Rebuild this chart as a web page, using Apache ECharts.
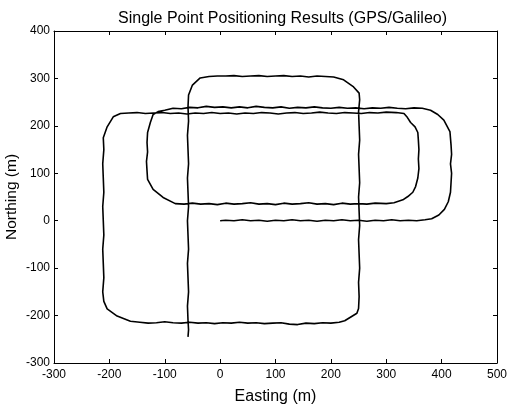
<!DOCTYPE html>
<html>
<head>
<meta charset="utf-8">
<script src="https://cdn.jsdelivr.net/npm/echarts@6/dist/echarts.min.js"></script>
<style>
  html, body { margin: 0; padding: 0; background: #fff; }
  #chart { width: 511px; height: 407px; }
</style>
</head>
<body>
<div id="chart"></div>
<script>
// axis ranges / ticks
const xTicks = [-300, -200, -100, 0, 100, 200, 300, 400, 500]
const yTicks = [-300, -200, -100, 0, 100, 200, 300, 400]

// track, [easting, northing] in metres
const legEast0 = [[0,0],[10,1],[25,0],[40,2],[55,0],[70,1],[85,-1],[100,1],[115,0],[130,2],[145,0],[160,1],[175,-1],[190,1],[205,0],[220,2],[235,0],[250,1],[265,-1],[280,1],[295,0],[310,2],[325,0],[340,1],[355,0],[370,2],[382,4]]
const turnOuterRight = [[395,12],[405,24],[412,40],[416,60],[417,80],[418,100],[416,120],[418,140],[417,160],[415,188],[404,212],[393,224],[380,233]]
const legWest238 = [[365,237],[350,238],[335,236],[320,237],[305,239],[290,237],[275,238],[260,236],[245,238],[230,237],[215,239],[200,237],[185,238],[170,240],[155,238],[140,239],[125,237],[110,240],[95,238],[80,239],[65,241],[50,238],[35,240],[20,238],[5,240],[-10,239],[-25,241],[-40,238],[-55,239],[-70,236],[-85,237],[-100,233],[-112,230]]
const turnInnerLeft = [[-121,224],[-126,207],[-131,186],[-132,165],[-131,145],[-133,125],[-132,105],[-131,87],[-121,66],[-103,49],[-81,36]]
const legEast36 = [[-65,35],[-50,37],[-35,35],[-20,36],[-5,34],[10,37],[25,35],[40,36],[55,38],[70,35],[85,36],[100,34],[115,37],[130,35],[145,36],[160,38],[175,35],[190,36],[205,34],[220,37],[235,35],[250,36],[265,35],[280,37],[300,36]]
const turnInnerRight = [[314,38],[330,44],[339,51],[348,60],[353,72],[357,90],[359,110],[358,130],[359,150],[358,170],[357,186],[352,198],[344,207],[338,218],[332,226]]
const legWest226 = [[318,228],[300,229],[285,227],[270,228],[255,226],[240,227],[225,228],[210,226],[195,227],[180,229],[165,227],[150,226],[135,228],[120,227],[105,225],[90,227],[75,228],[60,226],[45,227],[30,225],[15,227],[0,226],[-15,228],[-30,226],[-45,227],[-60,225],[-75,227],[-90,226],[-105,228],[-120,227],[-135,226],[-150,228],[-165,227],[-180,226],[-193,219]]
const turnOuterLeft = [[-204,198],[-211,175],[-210,150],[-212,120],[-211,90],[-210,60],[-212,30],[-211,0],[-210,-30],[-212,-60],[-211,-90],[-210,-120],[-212,-150],[-210,-170],[-204,-186],[-186,-201],[-162,-212]]
const legEastSouth = [[-145,-214],[-130,-216],[-115,-215],[-100,-213],[-85,-215],[-70,-216],[-55,-214],[-40,-216],[-25,-215],[-10,-217],[5,-215],[20,-216],[35,-214],[50,-216],[65,-215],[80,-217],[95,-216],[110,-215],[125,-218],[140,-219],[155,-216],[170,-217],[185,-215],[200,-216],[215,-214],[225,-211]]
const legNorth250 = [[236,-203],[247,-195],[250,-185],[251,-160],[250,-130],[252,-100],[251,-70],[250,-40],[252,-10],[251,20],[250,50],[252,80],[251,110],[250,140],[252,170],[251,200],[250,230],[252,255],[251,269],[241,282],[223,297],[205,303]]
const legWest305 = [[190,304],[175,305],[160,303],[145,305],[130,304],[115,306],[100,305],[85,304],[70,306],[55,305],[40,304],[25,306],[10,305],[-5,305],[-20,304],[-36,301],[-50,286],[-57,265]]
const legSouth57 = [[-58,240],[-57,210],[-59,180],[-58,150],[-57,120],[-59,90],[-58,60],[-57,30],[-59,0],[-58,-30],[-57,-60],[-59,-90],[-58,-120],[-57,-150],[-59,-180],[-58,-210],[-57,-230],[-58,-245]]

const track = [].concat(legEast0, turnOuterRight, legWest238, turnInnerLeft, legEast36,
  turnInnerRight, legWest226, turnOuterLeft, legEastSouth, legNorth250, legWest305, legSouth57)

const font = 'Liberation Sans, Arial, Helvetica, sans-serif'

const chart = echarts.init(document.getElementById('chart'))

const axisBase = {
  type: 'value',
  interval: 100,
  axisLine: { show: true, onZero: false, lineStyle: { color: '#000', width: 1 } },
  axisTick: { show: true, inside: true, length: 4, lineStyle: { color: '#000' } },
  splitLine: { show: false }
}

chart.setOption({
  animation: false,
  backgroundColor: '#fff',
  title: {
    text: 'Single Point Positioning Results (GPS/Galileo)',
    left: 113,
    top: 6,
    textStyle: { fontFamily: font, fontSize: 16, fontWeight: 'normal', color: '#000' }
  },
  grid: { left: 54, right: 14, top: 31, bottom: 44, containLabel: false, outerBoundsMode: 'none' },
  xAxis: [
    Object.assign({}, axisBase, {
      min: xTicks[0], max: xTicks[xTicks.length - 1],
      position: 'bottom',
      name: 'Easting (m)',
      nameLocation: 'middle',
      nameGap: 26,
      nameMoveOverlap: false,
      nameTextStyle: { fontFamily: font, fontSize: 16, color: '#000' },
      axisLabel: { fontFamily: font, fontSize: 12, color: '#000', margin: 6 }
    }),
    Object.assign({}, axisBase, {
      min: xTicks[0], max: xTicks[xTicks.length - 1],
      position: 'top',
      axisLabel: { show: false }
    })
  ],
  yAxis: [
    Object.assign({}, axisBase, {
      min: yTicks[0], max: yTicks[yTicks.length - 1],
      position: 'left',
      name: 'Northing (m)',
      nameLocation: 'middle',
      nameGap: 34,
      nameMoveOverlap: false,
      nameTextStyle: { fontFamily: font, fontSize: 15.5, color: '#000' },
      axisLabel: { fontFamily: font, fontSize: 12, color: '#000', margin: 4 }
    }),
    Object.assign({}, axisBase, {
      min: yTicks[0], max: yTicks[yTicks.length - 1],
      position: 'right',
      axisLabel: { show: false }
    })
  ],
  series: [{
    type: 'line',
    data: track,
    showSymbol: false,
    symbol: 'none',
    lineStyle: { color: '#000', width: 1.6 }
  }]
})
</script>
</body>
</html>
